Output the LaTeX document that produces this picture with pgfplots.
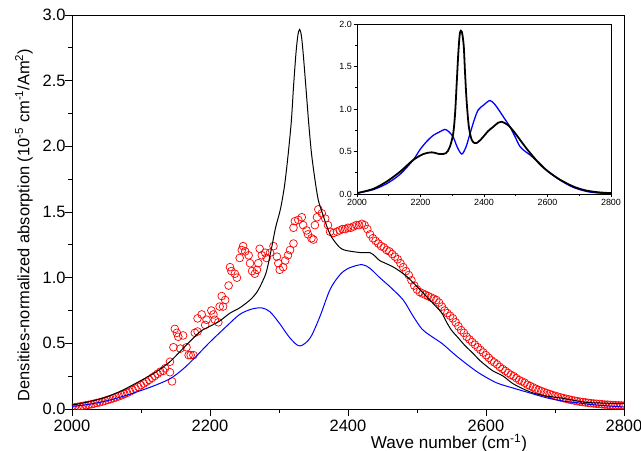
\documentclass[border=0pt]{standalone}
\usepackage{pgfplots}
\pgfplotsset{compat=1.18}
\usepackage{fontspec}
\setmainfont{Liberation Sans}
\definecolor{myred}{RGB}{255,0,0}
\definecolor{myblue}{RGB}{0,0,255}
\begin{document}
\begin{tikzpicture}
\begin{axis}[
  at={(0,0)}, anchor=south west,
  scale only axis, width=552bp, height=394bp,
  xmin=2000, xmax=2800, ymin=0, ymax=3,
  xtick={2000,2200,2400,2600,2800},
  minor xtick={2100,2300,2500,2700},
  ytick={0,0.5,1,1.5,2,2.5,3},
  minor ytick={0.25,0.75,1.25,1.75,2.25,2.75},
  tick align=outside, xtick pos=bottom, ytick pos=left,
  major tick length=7bp, minor tick length=4bp,
  axis line style={line width=0.8pt},
  every tick/.style={line width=0.8pt, black},
  /pgf/number format/assume math mode=true,
  /pgf/number format/1000 sep={},
  yticklabel style={xshift=4bp, /pgf/number format/.cd, fixed, fixed zerofill, precision=1},
  xticklabel style={yshift=-1bp},
  tick label style={font=\fontsize{16.5}{18}\selectfont},
  xlabel={Wave number (cm\textsuperscript{-1})},
  ylabel={Densities-normalized absorption (10\textsuperscript{-5} cm\textsuperscript{-1}/Am\textsuperscript{2})},
  xlabel style={font=\fontsize{17.2}{19}\selectfont, at={(axis description cs:0.683,0)}, anchor=base, inner sep=0pt, yshift=-39.8bp},
  ylabel style={font=\fontsize{16.5}{18}\selectfont, at={(axis description cs:0,0.467)}, anchor=south, inner sep=0pt, yshift=39bp},
  clip marker paths=true,
]
% experimental (red circles)
\addplot[only marks, mark=o, mark size=3.9pt, color=myred, mark options={line width=0.7pt}] table {
2000 0.010
2004 0.013
2008 0.016
2012 0.020
2016 0.024
2020 0.028
2024 0.032
2028 0.036
2032 0.041
2036 0.046
2040 0.051
2044 0.057
2048 0.063
2052 0.069
2056 0.075
2060 0.082
2064 0.089
2068 0.097
2072 0.105
2076 0.114
2080 0.123
2084 0.133
2088 0.144
2092 0.156
2096 0.168
2100 0.181
2104 0.194
2108 0.208
2112 0.222
2116 0.237
2120 0.252
2124 0.268
2128 0.284
2132 0.290
2135 0.310
2142 0.280
2145 0.210
2142 0.360
2147 0.470
2149 0.610
2152 0.580
2154 0.550
2157 0.460
2161 0.560
2166 0.470
2169 0.410
2172 0.410
2176 0.410
2178 0.580
2182 0.590
2182 0.690
2188 0.720
2193 0.640
2195 0.680
2202 0.750
2205 0.720
2207 0.680
2212 0.660
2214 0.780
2217 0.860
2219 0.780
2222 0.830
2227 0.940
2229 1.080
2231 1.050
2236 1.030
2239 1.000
2243 1.150
2246 1.210
2248 1.240
2251 1.200
2256 1.170
2258 1.110
2261 1.050
2265 1.030
2268 1.060
2270 1.110
2272 1.220
2275 1.170
2280 1.190
2282 1.150
2287 1.190
2292 1.240
2297 1.160
2299 1.110
2301 1.060
2306 1.080
2309 1.130
2313 1.170
2316 1.210
2321 1.260
2321 1.380
2323 1.430
2328 1.440
2333 1.460
2335 1.400
2340 1.360
2342 1.330
2347 1.300
2350 1.290
2352 1.400
2355 1.460
2357 1.520
2362 1.490
2367 1.450
2371 1.400
2374 1.350
2379 1.340
2384 1.350
2388 1.360
2392 1.370
2396 1.370
2400 1.380
2404 1.380
2408 1.390
2412 1.400
2416 1.400
2420 1.410
2424 1.400
2428 1.370
2432 1.330
2436 1.300
2440 1.280
2444 1.260
2448 1.240
2452 1.230
2456 1.210
2460 1.200
2464 1.180
2468 1.160
2472 1.140
2476 1.110
2480 1.080
2484 1.050
2488 1.020
2492 0.980
2496 0.940
2500 0.910
2504 0.890
2508 0.880
2512 0.870
2516 0.860
2520 0.850
2524 0.840
2528 0.830
2532 0.810
2536 0.780
2540 0.750
2544 0.730
2548 0.710
2552 0.690
2556 0.660
2560 0.630
2564 0.600
2568 0.580
2572 0.550
2576 0.530
2580 0.510
2584 0.490
2588 0.470
2592 0.450
2596 0.430
2600 0.410
2604 0.390
2608 0.370
2612 0.355
2616 0.340
2620 0.320
2624 0.305
2628 0.290
2632 0.275
2636 0.260
2640 0.250
2644 0.235
2648 0.220
2652 0.210
2656 0.200
2660 0.185
2664 0.175
2668 0.165
2672 0.155
2676 0.145
2680 0.137
2684 0.129
2688 0.121
2692 0.114
2696 0.107
2700 0.100
2704 0.094
2708 0.088
2712 0.083
2716 0.078
2720 0.073
2724 0.068
2728 0.064
2732 0.060
2736 0.056
2740 0.053
2744 0.050
2748 0.047
2752 0.044
2756 0.042
2760 0.040
2764 0.038
2768 0.036
2772 0.034
2776 0.033
2780 0.031
2784 0.030
2788 0.029
2792 0.028
2796 0.027
2800 0.026
};
% blue theory
\addplot[color=myblue, line width=1pt, smooth] table {
2000 0.020
2020 0.032
2045 0.056
2070 0.090
2094 0.130
2118 0.175
2142 0.230
2160 0.300
2176 0.380
2200 0.510
2224 0.630
2243 0.720
2260 0.760
2275 0.770
2287 0.740
2301 0.650
2316 0.540
2330 0.480
2345 0.540
2359 0.700
2374 0.910
2388 1.020
2400 1.070
2420 1.100
2432 1.070
2446 1.000
2461 0.930
2480 0.830
2494 0.710
2507 0.610
2519 0.560
2536 0.500
2547 0.450
2558 0.400
2575 0.330
2591 0.270
2615 0.200
2639 0.160
2665 0.120
2688 0.085
2712 0.060
2736 0.045
2760 0.030
2800 0.015
};
% black theory
\addplot[color=black, line width=1pt, smooth] table {
2000 0.030
2020 0.050
2045 0.083
2070 0.135
2094 0.200
2118 0.270
2128 0.305
2142 0.360
2157 0.440
2170 0.510
2186 0.590
2200 0.630
2214 0.670
2229 0.730
2243 0.770
2258 0.830
2268 0.890
2276 0.970
2282 1.050
2289 1.220
2295 1.380
2302 1.520
2308 1.700
2313.5 1.950
2318 2.200
2321 2.450
2324.6 2.710
2327.5 2.850
2330 2.890
2332.5 2.840
2335 2.710
2339 2.450
2343 2.180
2347 1.950
2352 1.750
2357 1.590
2363 1.490
2368 1.410
2374 1.330
2380 1.280
2388 1.230
2395 1.210
2405 1.200
2420 1.190
2432 1.190
2440 1.160
2446 1.130
2466 1.080
2485 1.010
2504 0.910
2524 0.800
2536 0.730
2543 0.660
2550 0.600
2560 0.540
2570 0.480
2580 0.430
2591 0.370
2600 0.330
2610 0.290
2625 0.250
2640 0.190
2664 0.130
2685 0.100
2707 0.085
2725 0.068
2746 0.050
2770 0.045
2800 0.040
};
\end{axis}
\begin{axis}[
  at={(285bp,215bp)}, anchor=south west,
  scale only axis, width=254bp, height=170bp,
  xmin=2000, xmax=2800, ymin=0, ymax=2,
  xtick={2000,2200,2400,2600,2800},
  minor xtick={2100,2300,2500,2700},
  ytick={0,0.5,1,1.5,2},
  minor ytick={0.25,0.75,1.25,1.75},
  tick align=outside, xtick pos=bottom, ytick pos=left,
  major tick length=3.5bp, minor tick length=2bp,
  axis line style={line width=0.7pt},
  every tick/.style={line width=0.6pt, black},
  /pgf/number format/assume math mode=true,
  /pgf/number format/1000 sep={},
  yticklabel style={/pgf/number format/.cd, fixed, fixed zerofill, precision=1},
  tick label style={font=\fontsize{9}{10}\selectfont, inner sep=1.5pt},
]
\addplot[color=myblue, line width=1.3pt, smooth] table {
2000 0.010
2050 0.050
2093 0.120
2135 0.230
2177 0.400
2198 0.520
2220 0.620
2240 0.690
2260 0.730
2277 0.760
2290 0.730
2303 0.670
2316 0.550
2330 0.470
2343 0.550
2356 0.710
2370 0.880
2382 0.990
2400 1.050
2419 1.100
2435 1.050
2450 0.970
2466 0.880
2482 0.790
2497 0.680
2513 0.560
2530 0.500
2545 0.460
2560 0.410
2576 0.360
2600 0.270
2639 0.165
2680 0.080
2723 0.030
2760 0.012
2800 0.005
};
\addplot[color=black, line width=1.8pt, smooth] table {
2000 0.010
2051 0.060
2093 0.145
2135 0.260
2177 0.400
2209 0.470
2235 0.490
2261 0.470
2280 0.480
2292 0.550
2303 0.710
2309 0.950
2314 1.300
2319 1.650
2324 1.890
2330 1.910
2336 1.750
2340 1.450
2345 1.110
2352 0.800
2361 0.640
2370 0.600
2377 0.600
2387 0.630
2397 0.670
2413 0.740
2429 0.790
2445 0.840
2456 0.850
2476 0.810
2495 0.730
2513 0.640
2535 0.530
2555 0.440
2576 0.350
2597 0.280
2630 0.190
2660 0.126
2690 0.075
2723 0.040
2760 0.020
2800 0.010
};
\end{axis}
\pgfresetboundingbox
\useasboundingbox (-72bp,-42bp) rectangle (569bp,409bp);
\end{tikzpicture}
\end{document}
